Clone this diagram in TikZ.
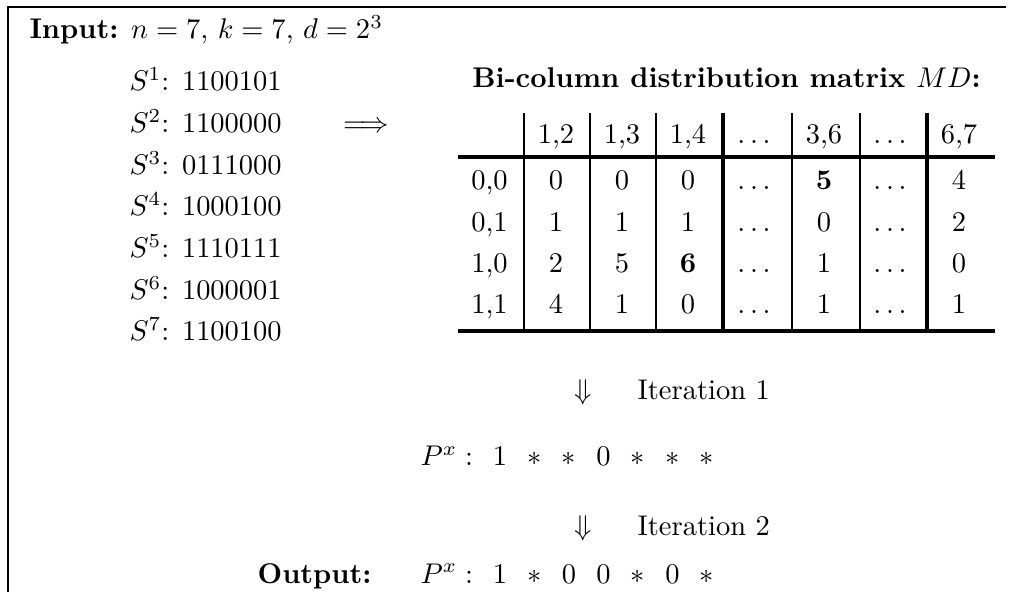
\documentclass[tikz,border=0pt]{standalone}
\usepackage{amsmath,amssymb}
\usepackage{tikz}
\usetikzlibrary{positioning,calc}

\begin{document}
\begin{tikzpicture}[x=0.351pt,y=-0.351pt,inner sep=0pt,
  cell/.style={anchor=base},
  lcell/.style={anchor=base west},
  hrule/.style={line width=1.2pt},
  vrule/.style={line width=0.8pt},
  vthick/.style={line width=1.2pt}]
\useasboundingbox (0,0) rectangle (1012,592);
\draw[line width=0.7pt] (8,592) -- (8,7) -- (1006,7);
% input sequences
\node[lcell] (input) at (29,39) {\textbf{Input:} $n=7$, $k=7$, $d=2^3$};
\node[lcell] (s1) at (129,91) {$S^1$: 1100101};
\node[lcell] (s2) at (129,133) {$S^2$: 1100000};
\node[lcell] (s3) at (129,175) {$S^3$: 0111000};
\node[lcell] (s4) at (129,216) {$S^4$: 1000100};
\node[lcell] (s5) at (129,258) {$S^5$: 1110111};
\node[lcell] (s6) at (129,300) {$S^6$: 1000001};
\node[lcell] (s7) at (129,341) {$S^7$: 1100100};
\node[cell] (impl) at (366,133) {$\Longrightarrow$};
% matrix MD
\node[cell] (title) at (726.5,88) {\textbf{Bi-column distribution matrix $MD$:}};
\node[cell] (t01) at (556,144) {1,2};\node[cell] (t02) at (622,144) {1,3};\node[cell] (t03) at (688,144) {1,4};
\node[cell] (t04) at (754,144) {$\ldots$};\node[cell] (t05) at (824,144) {3,6};\node[cell] (t06) at (890,144) {$\ldots$};\node[cell] (t07) at (959,144) {6,7};
\node[cell] (t10) at (489.5,190) {0,0};\node[cell] (t11) at (556,190) {0};\node[cell] (t12) at (622,190) {0};\node[cell] (t13) at (688,190) {0};
\node[cell] (t14) at (754,190) {$\ldots$};\node[cell] (t15) at (824,190) {\textbf{5}};\node[cell] (t16) at (890,190) {$\ldots$};\node[cell] (t17) at (959,190) {4};
\node[cell] (t20) at (489.5,232) {0,1};\node[cell] (t21) at (556,232) {1};\node[cell] (t22) at (622,232) {1};\node[cell] (t23) at (688,232) {1};
\node[cell] (t24) at (754,232) {$\ldots$};\node[cell] (t25) at (824,232) {0};\node[cell] (t26) at (890,232) {$\ldots$};\node[cell] (t27) at (959,232) {2};
\node[cell] (t30) at (489.5,273) {1,0};\node[cell] (t31) at (556,273) {2};\node[cell] (t32) at (622,273) {5};\node[cell] (t33) at (688,273) {\textbf{6}};
\node[cell] (t34) at (754,273) {$\ldots$};\node[cell] (t35) at (824,273) {1};\node[cell] (t36) at (890,273) {$\ldots$};\node[cell] (t37) at (959,273) {0};
\node[cell] (t40) at (489.5,314) {1,1};\node[cell] (t41) at (556,314) {4};\node[cell] (t42) at (622,314) {1};\node[cell] (t43) at (688,314) {0};
\node[cell] (t44) at (754,314) {$\ldots$};\node[cell] (t45) at (824,314) {1};\node[cell] (t46) at (890,314) {$\ldots$};\node[cell] (t47) at (959,314) {1};
\draw[hrule] (458,157) -- (995,157);
\draw[hrule] (458,331) -- (995,331);
\draw[vrule] (524,113) -- (524,331);
\draw[vrule] (590,113) -- (590,331);
\draw[vrule] (656,113) -- (656,331);
\draw[vthick] (723,113) -- (723,331);
\draw[vrule] (792,113) -- (792,331);
\draw[vrule] (860,113) -- (860,331);
\draw[vthick] (927,113) -- (927,331);
% iterations
\node[cell] (down1) at (583,400) {$\Downarrow$};\node[lcell] (iter1) at (637,400) {Iteration 1};
\node[lcell] (px1) at (420,466) {$P^x:$};
\node[cell] (a1) at (500,466) {1};\node[cell] (a2) at (534.5,466) {$*$};\node[cell] (a3) at (569,466) {$*$};\node[cell] (a4) at (603.5,466) {0};
\node[cell] (a5) at (638,466) {$*$};\node[cell] (a6) at (672.5,466) {$*$};\node[cell] (a7) at (707,466) {$*$};
\node[cell] (down2) at (583,535) {$\Downarrow$};\node[lcell] (iter2) at (637,535) {Iteration 2};
\node[anchor=base east] (output) at (372,583) {\textbf{Output:}};
\node[lcell] (px2) at (420,583) {$P^x:$};
\node[cell] (b1) at (500,583) {1};\node[cell] (b2) at (534.5,583) {$*$};\node[cell] (b3) at (569,583) {0};\node[cell] (b4) at (603.5,583) {0};
\node[cell] (b5) at (638,583) {$*$};\node[cell] (b6) at (672.5,583) {0};\node[cell] (b7) at (707,583) {$*$};
\end{tikzpicture}
\end{document}
